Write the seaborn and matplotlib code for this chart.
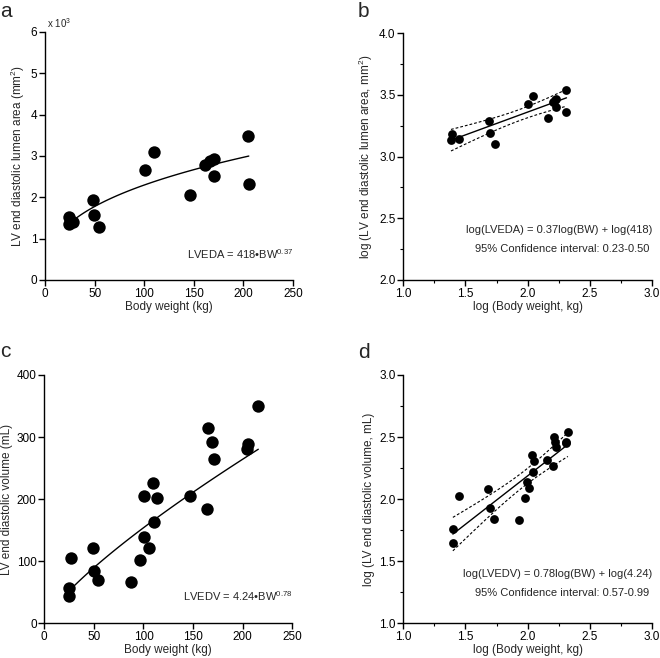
import numpy as np
import pandas as pd
import matplotlib
matplotlib.use('Agg')
import matplotlib.pyplot as plt
from matplotlib.ticker import MultipleLocator
import seaborn as sns

# panel a / b: body weight (kg) vs LV end diastolic lumen area (x10^3 mm^2)
bw_area = [24.6, 24.2, 27.9, 48.8, 49.8, 54.2, 100.6, 109.7, 146.4, 161.5,
           166.5, 169.9, 170.6, 204.6, 205.4]
lveda = [1.535, 1.357, 1.400, 1.930, 1.567, 1.276, 2.660, 3.100, 2.045, 2.786,
         2.890, 2.924, 2.527, 3.490, 2.322]

# panel c: body weight (kg) vs LV end diastolic volume (mL)
bw_vol = [24.9, 24.9, 27.2, 48.7, 49.7, 54.4, 87.4, 96.8, 100.1, 100.8, 105.2,
          109.5, 110.9, 113.9, 146.5, 163.6, 165.3, 169.4, 170.7, 205.3, 204.3, 215.7]
lvedv = [44.6, 57.4, 105.8, 120.8, 84.8, 69.8, 66.6, 102.6, 139.6, 205.6, 121.9,
         226.6, 163.8, 201.3, 205.6, 184.7, 314.1, 292.6, 264.7, 288.3, 281.3, 350.1]

# panel d: log values as plotted
log_bw_d = [1.399, 1.402, 1.450, 1.684, 1.697, 1.732, 1.933, 1.981, 1.997, 2.013,
            2.041, 2.035, 2.053, 2.158, 2.206, 2.212, 2.220, 2.225, 2.305, 2.310, 2.324]
log_lvedv_d = [1.644, 1.757, 2.025, 2.082, 1.926, 1.843, 1.832, 2.012, 2.141, 2.087,
               2.216, 2.356, 2.307, 2.315, 2.270, 2.503, 2.463, 2.423, 2.449, 2.460, 2.543]

# allometric fits printed on the chart: y = coef * BW^exp, 95% CI of exponent
area_coef, area_exp, area_ci = 418, 0.37, (0.23, 0.50)
vol_coef, vol_exp, vol_ci = 4.24, 0.78, (0.57, 0.99)

sns.set_style('ticks')
plt.rcParams['font.family'] = ['Liberation Sans', 'DejaVu Sans']
plt.rcParams['mathtext.fontset'] = 'custom'
plt.rcParams['mathtext.rm'] = 'Liberation Sans'
plt.rcParams['mathtext.it'] = 'Liberation Sans:italic'
plt.rcParams['axes.linewidth'] = 1.0
for k in ['xtick', 'ytick']:
    plt.rcParams[k + '.direction'] = 'out'
    plt.rcParams[k + '.major.size'] = 4
    plt.rcParams[k + '.major.width'] = 1.0
    plt.rcParams[k + '.minor.size'] = 2.5
    plt.rcParams[k + '.minor.width'] = 0.8
    plt.rcParams[k + '.color'] = 'black'
    plt.rcParams[k + '.labelsize'] = 8.5

fig = plt.figure(figsize=(6.6, 6.58), dpi=100)
ax_a = fig.add_axes([0.0682, 0.5745, 0.3758, 0.3769])
ax_b = fig.add_axes([0.611, 0.5745, 0.3768, 0.3749])
ax_c = fig.add_axes([0.0671, 0.0527, 0.3758, 0.3774])
ax_d = fig.add_axes([0.611, 0.0527, 0.3768, 0.3774])

lbl = 8.5
eq = 8.0


def style(ax):
    sns.despine(ax=ax)
    for s in ['left', 'bottom']:
        ax.spines[s].set_color('black')
    ax.tick_params(colors='black', pad=1.5)


def power_curve(ax, xdata, coef, ex, scale=1.0):
    xs = np.linspace(min(xdata) + 3, max(xdata), 60)
    ys = coef * xs ** ex / scale
    sns.lineplot(x=xs, y=ys, ax=ax, color='black', lw=1.0, estimator=None, sort=False)


def log_fit(ax, xdata, coef, ex, ci):
    x = np.asarray(xdata)
    xs = np.linspace(x.min(), x.max(), 60)
    ys = np.log10(coef) + ex * xs
    half_slope = (ci[1] - ci[0]) / 2
    sxx = np.sum((x - x.mean()) ** 2)
    half = half_slope * np.sqrt(sxx / len(x) + (xs - x.mean()) ** 2)
    sns.lineplot(x=xs, y=ys, ax=ax, color='black', lw=1.0, estimator=None, sort=False)
    for sign in (1, -1):
        sns.lineplot(x=xs, y=ys + sign * half, ax=ax, color='black', lw=0.8,
                     linestyle=(0, (2.5, 1.8)), estimator=None, sort=False)


# a
sns.scatterplot(x=bw_area, y=lveda, ax=ax_a, color='black', s=80, linewidth=0, zorder=3)
power_curve(ax_a, bw_area, area_coef, area_exp, scale=1000)
ax_a.set_xlim(0, 250)
ax_a.set_ylim(0, 6)
ax_a.xaxis.set_major_locator(MultipleLocator(50))
ax_a.yaxis.set_major_locator(MultipleLocator(1))
ax_a.set_xlabel('Body weight (kg)', fontsize=lbl, labelpad=1)
ax_a.set_ylabel('LV end diastolic lumen area (mm$^{2}$)', fontsize=lbl, labelpad=3)
ax_a.text(0.008, 1.018, 'x 10$^{3}$', transform=ax_a.transAxes, fontsize=7, va='baseline')
ax_a.text(1.0, 0.085, 'LVEDA = 418\u2022BW$^{0.37}$', transform=ax_a.transAxes,
          fontsize=eq, ha='right', va='baseline')
style(ax_a)

# b
sns.scatterplot(x=np.log10(bw_area), y=np.log10(np.array(lveda) * 1000), ax=ax_b,
                color='black', s=40, linewidth=0, zorder=3)
log_fit(ax_b, np.log10(bw_area), area_coef, area_exp, area_ci)
ax_b.set_xlim(1, 3)
ax_b.set_ylim(2, 4)
for axis in (ax_b.xaxis, ax_b.yaxis):
    axis.set_major_locator(MultipleLocator(0.5))
    axis.set_minor_locator(MultipleLocator(0.25))
ax_b.xaxis.set_major_formatter('{x:.1f}')
ax_b.yaxis.set_major_formatter('{x:.1f}')
ax_b.set_xlabel('log (Body weight, kg)', fontsize=lbl, labelpad=1)
ax_b.set_ylabel('log (LV end diastolic lumen area, mm$^{2}$)', fontsize=lbl, labelpad=3)
ax_b.text(1.0, 0.189, 'log(LVEDA) = 0.37log(BW) + log(418)', transform=ax_b.transAxes,
          fontsize=eq, ha='right', va='baseline')
ax_b.text(0.99, 0.115, '95% Confidence interval: 0.23-0.50', transform=ax_b.transAxes,
          fontsize=eq, ha='right', va='baseline')
style(ax_b)

# c
sns.scatterplot(x=bw_vol, y=lvedv, ax=ax_c, color='black', s=80, linewidth=0, zorder=3)
power_curve(ax_c, bw_vol, vol_coef, vol_exp)
ax_c.set_xlim(0, 250)
ax_c.set_ylim(0, 400)
ax_c.xaxis.set_major_locator(MultipleLocator(50))
ax_c.yaxis.set_major_locator(MultipleLocator(100))
ax_c.set_xlabel('Body weight (kg)', fontsize=lbl, labelpad=1)
ax_c.set_ylabel('LV end diastolic volume (mL)', fontsize=lbl, labelpad=3)
ax_c.text(1.0, 0.091, 'LVEDV = 4.24\u2022BW$^{0.78}$', transform=ax_c.transAxes,
          fontsize=eq, ha='right', va='baseline')
style(ax_c)

# d
sns.scatterplot(x=log_bw_d, y=log_lvedv_d, ax=ax_d, color='black', s=40, linewidth=0, zorder=3)
log_fit(ax_d, log_bw_d, vol_coef, vol_exp, vol_ci)
ax_d.set_xlim(1, 3)
ax_d.set_ylim(1, 3)
for axis in (ax_d.xaxis, ax_d.yaxis):
    axis.set_major_locator(MultipleLocator(0.5))
    axis.set_minor_locator(MultipleLocator(0.25))
ax_d.xaxis.set_major_formatter('{x:.1f}')
ax_d.yaxis.set_major_formatter('{x:.1f}')
ax_d.set_xlabel('log (Body weight, kg)', fontsize=lbl, labelpad=1)
ax_d.set_ylabel('log (LV end diastolic volume, mL)', fontsize=lbl, labelpad=3)
ax_d.text(1.0, 0.185, 'log(LVEDV) = 0.78log(BW) + log(4.24)', transform=ax_d.transAxes,
          fontsize=eq, ha='right', va='baseline')
ax_d.text(0.99, 0.111, '95% Confidence interval: 0.57-0.99', transform=ax_d.transAxes,
          fontsize=eq, ha='right', va='baseline')
style(ax_d)

for letter, x, y in [('a', 0.0, 17), ('b', 358, 17), ('c', 0.0, 357), ('d', 358, 358)]:
    fig.text(x / 660, 1 - y / 658, letter, fontsize=15, va='baseline')

fig.savefig('out.png', dpi=100)
